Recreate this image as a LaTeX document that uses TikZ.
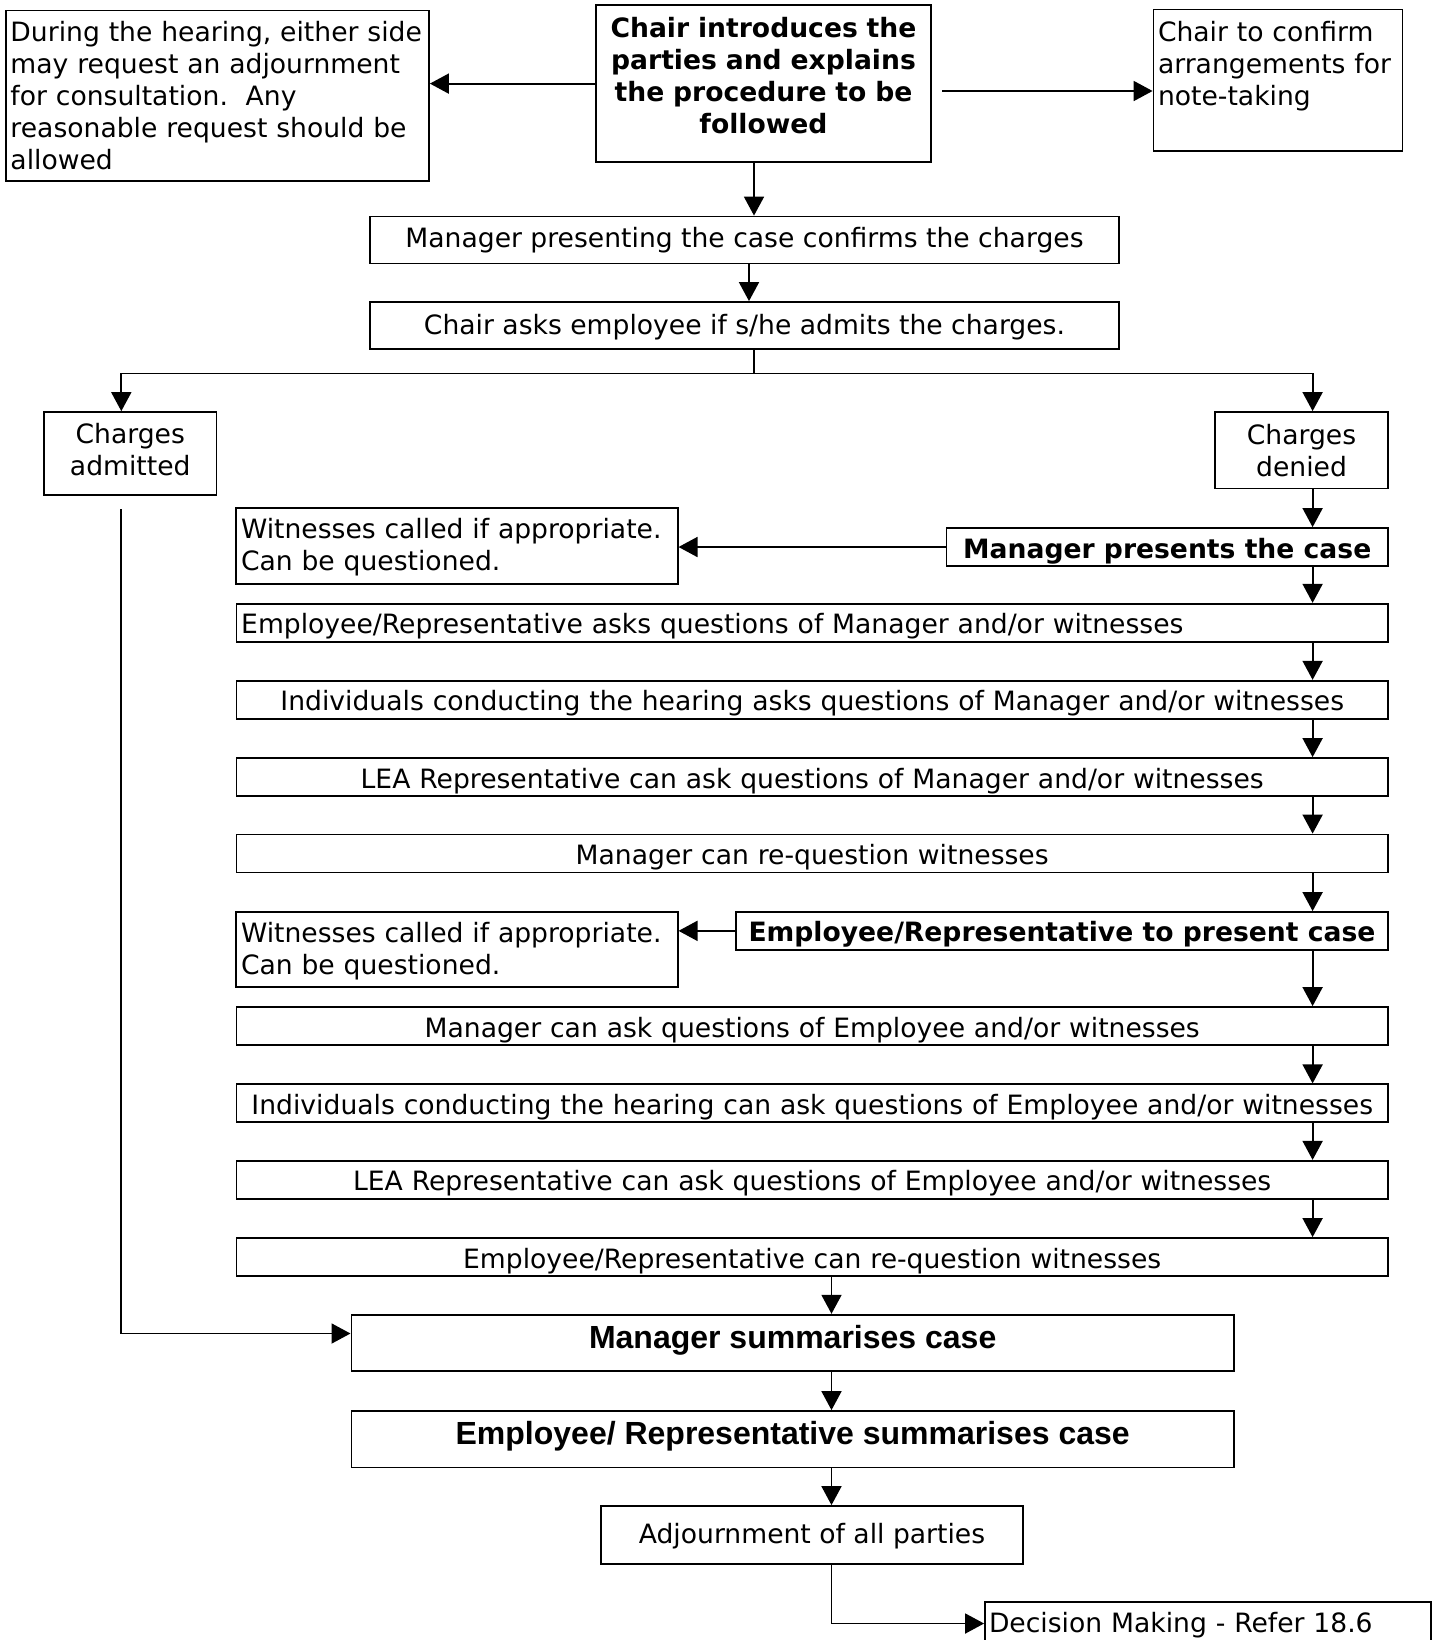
\documentclass[tikz,border=0pt]{standalone}
\usepackage{fontspec}
\setmainfont{DejaVu Sans}
\newfontfamily\arialfont{Liberation Sans}
\usetikzlibrary{arrows.meta}

\tikzset{
	box/.style={draw, line width=0.9pt, inner sep=2pt, font=\fontsize{13.3pt}{16pt}\selectfont},
	lowtext/.style={text height=12pt, text depth=1pt},
	rowbox/.style={box, lowtext, minimum width=575.8pt, minimum height=19pt, text width=571pt, align=center},
	witbox/.style={box, minimum width=220.65pt, minimum height=37.8pt, text width=216pt, align=left, text height=10pt, text depth=17pt},
	sumbox/.style={box, minimum width=441.3pt, minimum height=28.2pt, text height=11.5pt, text depth=6.4pt, font=\arialfont\bfseries\fontsize{16pt}{19pt}\selectfont},
	arr/.style={line width=0.9pt, -{Triangle[length=9.5pt,width=10pt]}},
	conn/.style={line width=0.9pt},
}

\begin{document}
\begin{tikzpicture}[x=0.5pt, y=-0.5pt]
	%%%%% FRAME %%%%%
	\useasboundingbox (0,0) rectangle (1436,1640);
	
	%%%%% TOP ROW %%%%%
	\node[box, minimum width=211.5pt, minimum height=85.25pt, text width=207pt, align=left] (hearing) at (217.5,95.75)
		{During the hearing, either side\\ may request an adjournment\\ for consultation.\ \ Any\\ reasonable request should be\\ allowed};
	\node[box, line width=1.3pt, minimum width=167.5pt, minimum height=78.5pt, text width=162pt, align=center, font=\bfseries\fontsize{13.3pt}{16pt}\selectfont] (chair) at (763.5,83.6)
		{Chair introduces the\\ parties and explains\\ the procedure to be\\ followed\\[-8pt]\mbox{}};
	\node[box, minimum width=124.5pt, minimum height=70.6pt, text width=120pt, align=left] (confirm) at (1278,80)
		{Chair to confirm\\ arrangements for\\ note-taking\\[1pt]\mbox{}};
	
	\node[box, minimum width=374.5pt, minimum height=23.5pt] (presenting) at (744.5,240) {Manager presenting the case confirms the charges};
	\node[box, text height=12pt, text depth=3pt, minimum width=374.5pt, minimum height=23.5pt] (admits) at (744.5,325.5) {Chair asks employee if s/he admits the charges.};
	
	%%%%% BRANCHES %%%%%
	\node[box, minimum width=86.25pt, minimum height=41.35pt, align=center] (admitted) at (130.25,453.4) {Charges\\ admitted\\[-12pt]\mbox{}};
	\node[box, minimum width=86.5pt, minimum height=38.2pt, align=center] (denied) at (1301.5,450.2) {Charges\\ denied};
	
	\node[box, lowtext, minimum width=220.75pt, minimum height=19pt, font=\bfseries\fontsize{13.3pt}{16pt}\selectfont] (mpresents) at (1167.25,547) {Manager presents the case};
	\node[witbox] (witA) at (457,545.8) {Witnesses called if appropriate.\\ Can be questioned.};
	
	\node[rowbox, align=left] (q1) at (812.2,622.75) {Employee/Representative asks questions of Manager and/or witnesses};
	\node[rowbox] (q2) at (812.2,699.75) {Individuals conducting the hearing asks questions of Manager and/or witnesses};
	\node[rowbox] (q3) at (812.2,777) {LEA Representative can ask questions of Manager and/or witnesses};
	\node[rowbox] (q4) at (812.2,853.5) {Manager can re-question witnesses};
	
	\node[box, lowtext, minimum width=326pt, minimum height=18.85pt, font=\bfseries\fontsize{13.3pt}{16pt}\selectfont] (epresents) at (1062,930.85) {Employee/Representative to present case};
	\node[witbox] (witB) at (457,949.5) {Witnesses called if appropriate.\\ Can be questioned.};
	
	\node[rowbox] (q5) at (812.2,1026) {Manager can ask questions of Employee and/or witnesses};
	\node[rowbox] (q6) at (812.2,1103.3) {Individuals conducting the hearing can ask questions of Employee and/or witnesses};
	\node[rowbox] (q7) at (812.2,1179.8) {LEA Representative can ask questions of Employee and/or witnesses};
	\node[rowbox] (q8) at (812.2,1257) {Employee/Representative can re-question witnesses};
	
	%%%%% CLOSING %%%%%
	\node[sumbox] (msum) at (792.7,1342.9) {Manager summarises case};
	\node[sumbox] (esum) at (792.7,1439.2) {Employee/ Representative summarises case};
	\node[box, text height=12pt, text depth=3pt, minimum width=211pt, minimum height=28.8pt] (adjourn) at (812,1534.8) {Adjournment of all parties};
	\node[box, text height=12pt, text depth=3pt, minimum width=223pt, minimum height=21.5pt, text width=219pt, align=left] (decision) at (1208,1623.5) {Decision Making - Refer 18.6};
	
	%%%%% CONNECTORS %%%%%
	\coordinate (tcol) at (754,0);
	\coordinate (mcol) at (749,0);
	\coordinate (lcol) at (121.3,0);
	\coordinate (rcol) at (1312.6,0);
	\coordinate (ccol) at (831.5,0);
	\coordinate (split) at (754,373.4);
	\coordinate (c1) at ([shift={(5pt,-3.7pt)}]chair.east);
	\coordinate (lstart) at (121.3,509);
	
	\draw[arr] (chair.west) -- (chair.west -| hearing.east);
	\draw[arr] (c1) -- (c1 -| confirm.west);
	\draw[arr] (chair.south -| tcol) -- (presenting.north -| tcol);
	\draw[arr] (presenting.south -| mcol) -- (admits.north -| mcol);
	\draw[conn] (admits.south -| tcol) -- (split);
	\draw[arr] (split) -| (admitted.north -| lcol);
	\draw[arr] (split) -| (denied.north -| rcol);
	
	\draw[arr] (denied.south -| rcol) -- (mpresents.north -| rcol);
	\draw[arr] (mpresents.west) -- (mpresents.west -| witA.east);
	\draw[arr] (mpresents.south -| rcol) -- (q1.north -| rcol);
	\draw[arr] (q1.south -| rcol) -- (q2.north -| rcol);
	\draw[arr] (q2.south -| rcol) -- (q3.north -| rcol);
	\draw[arr] (q3.south -| rcol) -- (q4.north -| rcol);
	\draw[arr] (q4.south -| rcol) -- (epresents.north -| rcol);
	\draw[arr] (epresents.west) -- (epresents.west -| witB.east);
	\draw[arr] (epresents.south -| rcol) -- (q5.north -| rcol);
	\draw[arr] (q5.south -| rcol) -- (q6.north -| rcol);
	\draw[arr] (q6.south -| rcol) -- (q7.north -| rcol);
	\draw[arr] (q7.south -| rcol) -- (q8.north -| rcol);
	
	\draw[arr] (q8.south -| ccol) -- (msum.north -| ccol);
	\draw[arr] (lstart) |- ([yshift=4.7pt]msum.west);
	\draw[arr] (msum.south -| ccol) -- (esum.north -| ccol);
	\draw[arr] (esum.south -| ccol) -- (adjourn.north -| ccol);
	\draw[arr] (adjourn.south -| ccol) |- (decision.west);
\end{tikzpicture}
\end{document}
